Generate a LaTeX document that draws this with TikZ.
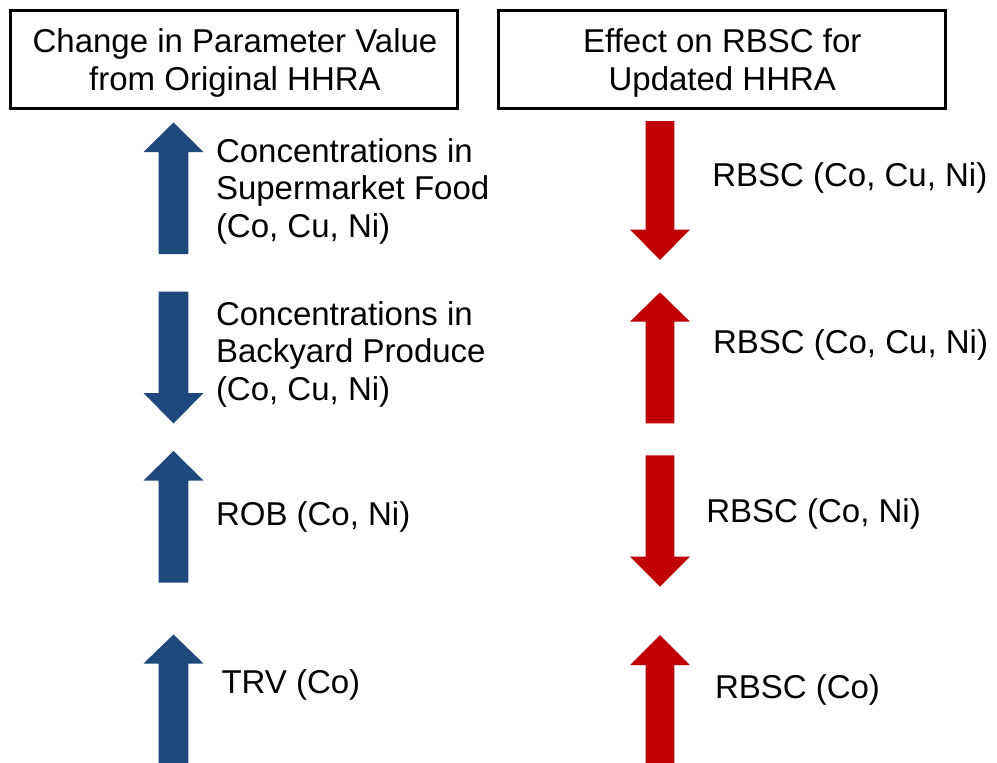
\documentclass[tikz,border=0pt]{standalone}
\usepackage{fontspec}
\setmainfont{Liberation Sans}
\definecolor{upblue}{RGB}{31,73,125}
\definecolor{effred}{RGB}{192,0,0}
% block arrow: colour, x, tip y, head-base y, tail y, shaft half width, head half width
\newcommand{\drawblockarrow}[7]{%
  \fill[#1] ({#2-#6},#5) -- ({#2-#6},#4) -- ({#2-#7},#4) -- (#2,#3)
    -- ({#2+#7},#4) -- ({#2+#6},#4) -- ({#2+#6},#5) -- cycle;}
\begin{document}
\begin{tikzpicture}[x=1pt,y=-1pt,
  every node/.style={inner sep=0pt, outer sep=0pt},
  header/.style={draw=black, line width=3pt, minimum width=447pt, minimum height=97.7pt},
  head text/.style={font=\fontsize{33}{38}\selectfont, align=center, anchor=base},
  label text/.style={font=\fontsize{33}{37.5}\selectfont, align=left, anchor=base west}]
\useasboundingbox (0,0) rectangle (997,763);
\clip (0,0) rectangle (997,763);

% column headers (text nodes are placed by the baseline of their last line)
\node[header] (lbox) at (234.3,59.7) {};
\node[head text] (ltitle) at (235,90.8) {Change in Parameter Value\\from Original HHRA};
\node[header] (rbox) at (722.3,59.7) {};
\node[head text] (rtitle) at (722.3,90.8) {Effect on RBSC for\\Updated HHRA};

% parameter changes (left column)
\drawblockarrow{upblue}{173.5}{122.5}{152}{254}{14.8}{30}
\drawblockarrow{upblue}{173.5}{423.5}{393}{291.5}{14.8}{30}
\drawblockarrow{upblue}{173.5}{451}{480.5}{582.5}{14.8}{30}
\drawblockarrow{upblue}{173.5}{634.5}{663.5}{780}{14.8}{30}

\node[label text] (p1) at (216,237) {Concentrations in\\Supermarket Food\\(Co, Cu, Ni)};
\node[label text] (p2) at (216,400) {Concentrations in\\Backyard Produce\\(Co, Cu, Ni)};
\node[label text] (p3) at (216,525) {ROB (Co, Ni)};
\node[label text] (p4) at (221.5,693.3) {TRV (Co)};

% effects on RBSC (right column)
\drawblockarrow{effred}{660}{260}{229.5}{121}{14.3}{30}
\drawblockarrow{effred}{660}{292.3}{321.7}{423.3}{14.3}{30}
\drawblockarrow{effred}{660}{586.7}{556.7}{455.3}{14.3}{30}
\drawblockarrow{effred}{660}{635}{665}{780}{14.3}{30}

\node[label text] (e1) at (712.3,186) {RBSC (Co, Cu, Ni)};
\node[label text] (e2) at (713,353.3) {RBSC (Co, Cu, Ni)};
\node[label text] (e3) at (706.3,522.3) {RBSC (Co, Ni)};
\node[label text] (e4) at (715,698.3) {RBSC (Co)};
\end{tikzpicture}
\end{document}
